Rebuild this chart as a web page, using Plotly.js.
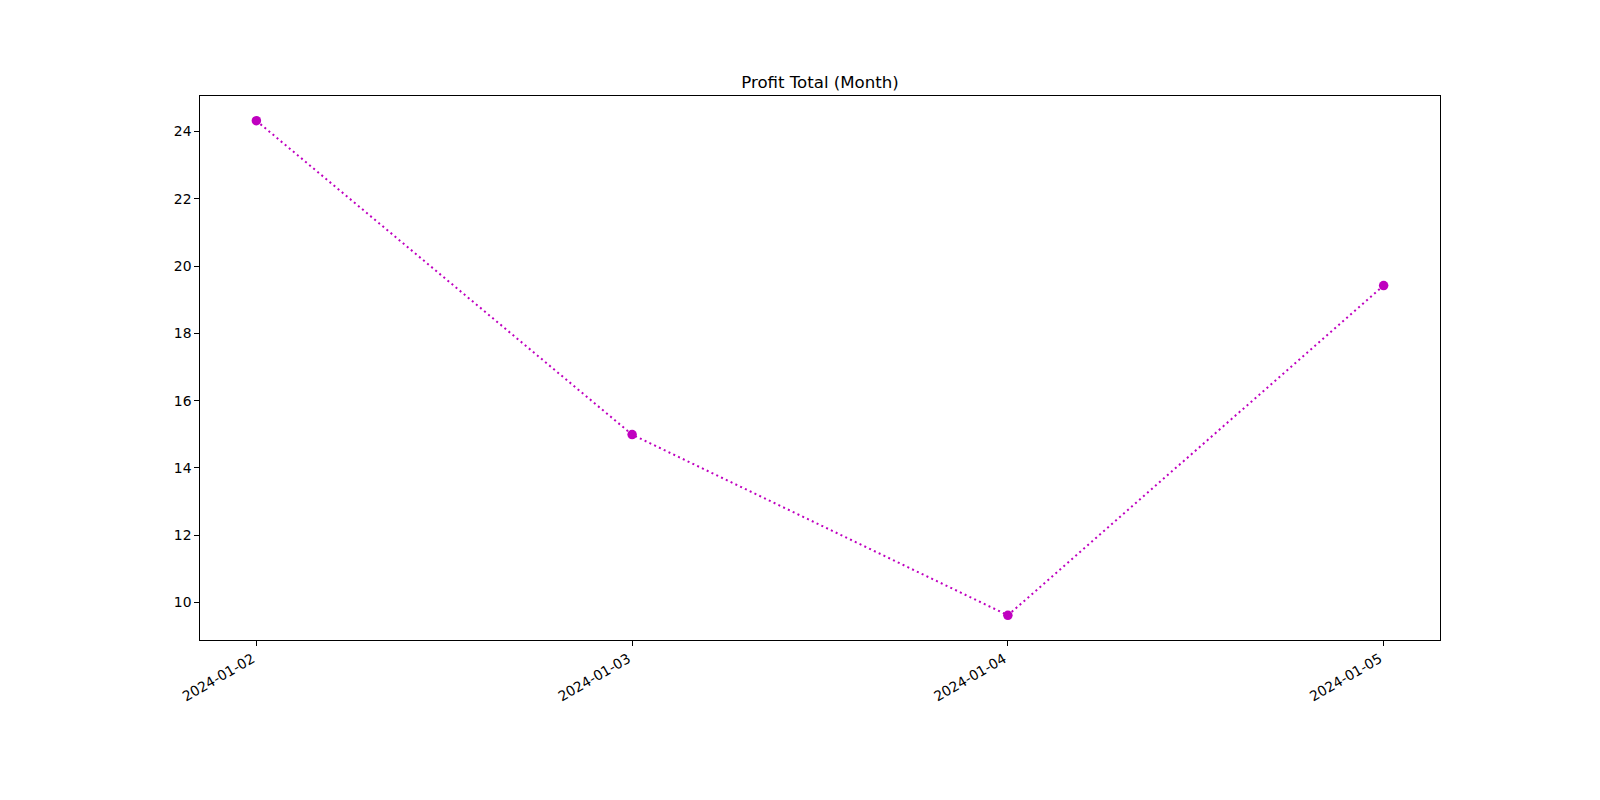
<!DOCTYPE html>
<html>
<head>
<meta charset="utf-8">
<script src="https://cdn.plot.ly/plotly-3.0.1.min.js"></script>
<style>html,body{margin:0;padding:0;background:#fff;}#chart{width:1600px;height:800px;}</style>
</head>
<body>
<div id="chart"></div>
<script>
const dates = ["2024-01-02", "2024-01-03", "2024-01-04", "2024-01-05"];
const profit = [24.32, 14.99, 9.62, 19.42];
const yTicks = [10, 12, 14, 16, 18, 20, 22, 24];

const trace = {
  x: dates,
  y: profit,
  type: "scatter",
  mode: "lines+markers",
  line: {color: "#bf00bf", width: 2, dash: "2px,3.3px"},
  marker: {color: "#bf00bf", size: 9.5},
  hoverinfo: "x+y"
};

const layout = {
  width: 1600,
  height: 800,
  paper_bgcolor: "#ffffff",
  plot_bgcolor: "#ffffff",
  font: {family: "DejaVu Sans", color: "#000000", size: 13.9},
  showlegend: false,
  margin: {l: 200, r: 160, t: 96, b: 160, pad: 0},
  title: {
    text: "Profit Total (Month)",
    font: {family: "DejaVu Sans", size: 16.6, color: "#000000"},
    x: 0.5, xanchor: "center", xref: "paper",
    y: 0.89, yanchor: "bottom", yref: "container"
  },
  xaxis: {
    type: "date",
    range: ["2024-01-01 20:24", "2024-01-05 03:36"],
    tickvals: dates,
    ticktext: dates,
    tickangle: -30,
    ticklabelshift: -4,
    ticks: "outside", ticklen: 4.67, tickwidth: 1, tickcolor: "#000",
    showline: true, linecolor: "#000", linewidth: 1, mirror: true,
    showgrid: false, zeroline: false,
    tickfont: {family: "DejaVu Sans", size: 13.9, color: "#000"}
  },
  yaxis: {
    range: [8.885, 25.055],
    tickvals: yTicks,
    ticks: "outside", ticklen: 4.67, tickwidth: 1, tickcolor: "#000",
    showline: true, linecolor: "#000", linewidth: 1, mirror: true,
    showgrid: false, zeroline: false,
    tickfont: {family: "DejaVu Sans", size: 13.9, color: "#000"}
  }
};

Plotly.newPlot("chart", [trace], layout, {displayModeBar: false, staticPlot: true});
</script>
</body>
</html>
